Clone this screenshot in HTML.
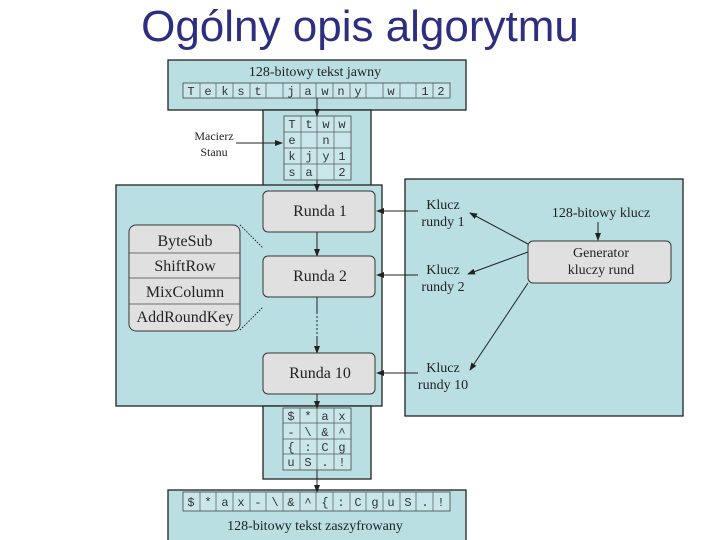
<!DOCTYPE html>
<html><head><meta charset="utf-8"><style>
body{margin:0;background:#fff;width:720px;height:540px;overflow:hidden}
svg{display:block}
.s{font-family:"Liberation Serif",serif;fill:#222}
.m{font-family:"Liberation Mono",monospace;fill:#333;font-size:12px}
</style></head><body>
<svg width="720" height="540" xmlns="http://www.w3.org/2000/svg">
<defs><marker id="a" markerWidth="8" markerHeight="8" refX="7" refY="4" orient="auto" markerUnits="userSpaceOnUse"><path d="M0,1 L8,4 L0,7z" fill="#222"/></marker></defs>
<text x="360" y="41" text-anchor="middle" font-family="Liberation Sans,sans-serif" font-size="44" fill="#2e2e80">Ogólny opis algorytmu</text>
<g fill="#b9dfe3" stroke="#222" stroke-width="1.3">
<rect x="168" y="60" width="298" height="50"/>
<rect x="263" y="110" width="108" height="76"/>
<rect x="116" y="185" width="266" height="221"/>
<rect x="405" y="179" width="278" height="237"/>
<rect x="263" y="406" width="108" height="73"/>
<rect x="168" y="490" width="298" height="55"/>
</g>
<text class="s" x="315" y="76" text-anchor="middle" font-size="14">128-bitowy tekst jawny</text>
<text class="s" x="315" y="530" text-anchor="middle" font-size="14">128-bitowy tekst zaszyfrowany</text>
<g fill="#c9e6ea" stroke="#444" stroke-width="0.8">
<rect x="183" y="83" width="267" height="15"/>
<rect x="183" y="492" width="267" height="19"/>
<rect x="284" y="116" width="67" height="64"/>
<rect x="283" y="408" width="68" height="62"/>
</g>
<g stroke="#555" stroke-width="0.7">
<path d="M200 83v15M216 83v15M233 83v15M250 83v15M266 83v15M283 83v15M300 83v15M316 83v15M333 83v15M350 83v15M366 83v15M383 83v15M400 83v15M416 83v15M433 83v15"/>
<path d="M200 492v19M216 492v19M233 492v19M250 492v19M266 492v19M283 492v19M300 492v19M316 492v19M333 492v19M350 492v19M366 492v19M383 492v19M400 492v19M416 492v19M433 492v19"/>
<path d="M301 116v64M317 116v64M334 116v64M284 132h67M284 148h67M284 164h67"/>
<path d="M300 408v62M317 408v62M334 408v62M283 423h68M283 439h68M283 454h68"/>
</g>
<g class="m" text-anchor="middle">
<text x="191" y="95">T</text><text x="208" y="95">e</text><text x="225" y="95">k</text><text x="241" y="95">s</text><text x="258" y="95">t</text><text x="291" y="95">j</text><text x="308" y="95">a</text><text x="325" y="95">w</text><text x="341" y="95">n</text><text x="358" y="95">y</text><text x="391" y="95">w</text><text x="425" y="95">1</text><text x="441" y="95">2</text>
<text x="292" y="128">T</text><text x="309" y="128">t</text><text x="326" y="128">w</text><text x="342" y="128">w</text>
<text x="292" y="144">e</text><text x="326" y="144">n</text>
<text x="292" y="160">k</text><text x="309" y="160">j</text><text x="326" y="160">y</text><text x="342" y="160">1</text>
<text x="292" y="176">s</text><text x="309" y="176">a</text><text x="342" y="176">2</text>
<text x="291" y="420">$</text><text x="308" y="420">*</text><text x="325" y="420">a</text><text x="342" y="420">x</text>
<text x="291" y="436">-</text><text x="308" y="436">\</text><text x="325" y="436">&amp;</text><text x="342" y="436">^</text>
<text x="291" y="451">{</text><text x="308" y="451">:</text><text x="325" y="451">C</text><text x="342" y="451">g</text>
<text x="291" y="466">u</text><text x="308" y="466">S</text><text x="325" y="466">.</text><text x="342" y="466">!</text>
<text x="191" y="506">$</text><text x="208" y="506">*</text><text x="225" y="506">a</text><text x="241" y="506">x</text><text x="258" y="506">-</text><text x="275" y="506">\</text><text x="291" y="506">&amp;</text><text x="308" y="506">^</text><text x="325" y="506">{</text><text x="341" y="506">:</text><text x="358" y="506">C</text><text x="375" y="506">g</text><text x="391" y="506">u</text><text x="408" y="506">S</text><text x="425" y="506">.</text><text x="441" y="506">!</text>
</g>
<text class="s" x="214" y="140" text-anchor="middle" font-size="12">Macierz</text>
<text class="s" x="214" y="156" text-anchor="middle" font-size="12">Stanu</text>
<g stroke="#222" stroke-width="1" fill="none">
<path d="M236 143H282" marker-end="url(#a)"/>
<path d="M317 98V116" marker-end="url(#a)"/>
<path d="M317 180V191" marker-end="url(#a)"/>
<path d="M317 232V256" marker-end="url(#a)"/>
<path d="M317 297V312M317 338V353" marker-end="url(#a)"/>
<path d="M317 312V338" stroke-dasharray="2,2"/>
<path d="M317 394V408" marker-end="url(#a)"/>
<path d="M317 470V492" marker-end="url(#a)"/>
<path d="M418 211H377" marker-end="url(#a)"/>
<path d="M418 275H377" marker-end="url(#a)"/>
<path d="M418 373H377" marker-end="url(#a)"/>
<path d="M598 222V240" marker-end="url(#a)"/>
<path d="M528 244L470 213" marker-end="url(#a)"/>
<path d="M528 252L468 274" marker-end="url(#a)"/>
<path d="M528 283L470 370" marker-end="url(#a)"/>
<path d="M240 225L263 248M240 330L263 307" stroke-dasharray="1.5,1.5"/>
</g>
<g fill="#e0e0e0" stroke="#333" stroke-width="1">
<rect x="263" y="191" width="112" height="41" rx="5"/>
<rect x="263" y="256" width="112" height="41" rx="5"/>
<rect x="263" y="353" width="112" height="41" rx="5"/>
<rect x="129" y="225" width="111" height="106" rx="7"/>
<rect x="528" y="241" width="143" height="42" rx="5"/>
</g>
<path d="M129 253H240M129 278H240M129 304H240" stroke="#444" stroke-width="0.8"/>
<g class="s" text-anchor="middle" font-size="16">
<text x="320" y="216">Runda 1</text><text x="320" y="281">Runda 2</text><text x="320" y="378">Runda 10</text>
<text x="185" y="246">ByteSub</text><text x="185" y="271">ShiftRow</text><text x="185" y="297">MixColumn</text><text x="185" y="322">AddRoundKey</text>
</g>
<g class="s" text-anchor="middle" font-size="14">
<text x="443" y="209">Klucz</text><text x="443" y="226">rundy 1</text>
<text x="443" y="274">Klucz</text><text x="443" y="291">rundy 2</text>
<text x="443" y="372">Klucz</text><text x="443" y="389">rundy 10</text>
<text x="601" y="217">128-bitowy klucz</text>
<text x="601" y="257">Generator</text><text x="601" y="274">kluczy rund</text>
</g>
</svg>
</body></html>
